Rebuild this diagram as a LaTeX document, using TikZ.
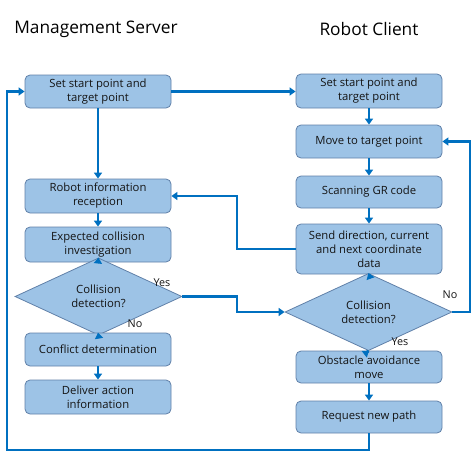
\documentclass[tikz,border=0pt]{standalone}
\usepackage{fontspec}
\setmainfont{Open Sans}
\usetikzlibrary{shapes.geometric,arrows.meta}
\definecolor{boxfill}{RGB}{157,195,230}
\definecolor{boxline}{RGB}{96,128,168}
\definecolor{arrowc}{RGB}{0,112,192}
\definecolor{txt}{RGB}{20,20,20}
\tikzset{
  procbox/.style={draw=boxline, line width=0.8pt, fill=boxfill, rounded corners=5pt,
    minimum width=146pt, inner sep=0pt, align=center, text=txt,
    font=\fontsize{11.3}{14}\selectfont},
  decbox/.style={draw=boxline, line width=0.8pt, fill=boxfill, diamond, inner sep=0pt,
    minimum width=167pt, minimum height=45pt, align=center, text=txt,
    font=\fontsize{11.3}{14}\selectfont},
  flow/.style={draw=arrowc, line width=2.8pt, -{Triangle[width=8pt,length=6pt]}},
  lbl/.style={text=txt, font=\fontsize{10.8}{12}\selectfont, inner sep=0pt},
  title/.style={text=black, font=\fontsize{17.3}{20}\selectfont, inner sep=0pt}
}
\begin{document}
\begin{tikzpicture}[x=1pt,y=-1pt]
\useasboundingbox (0,0) rectangle (474,453);
% titles
\node[title] (t1) at (96,29) {Management Server};
\node[title] (t2) at (369,29) {Robot Client};
% left column
\node[procbox, minimum height=33pt] (L1) at (98,91.5) {Set start point and\\target point};
\node[procbox, minimum height=34pt] (L2) at (98,196) {Robot information\\reception};
\node[procbox, minimum height=35pt] (L3) at (98,244.5) {Expected collision\\investigation};
\node[decbox] (DL) at (98.5,296.5) {Collision\\detection?};
\node[procbox, minimum height=33pt] (L4) at (98,349.5) {Conflict determination};
\node[procbox, minimum height=34pt] (L5) at (98,397) {Deliver action\\information};
% right column
\node[procbox, minimum height=34pt] (R1) at (369,91) {Set start point and\\target point};
\node[procbox, minimum height=33pt] (R2) at (369,141.5) {Move to target point};
\node[procbox, minimum height=32pt] (R3) at (369,192) {Scanning GR code};
\node[procbox, minimum height=50pt] (R4) at (369,249) {Send direction, current\\and next coordinate\\data};
\node[decbox, minimum height=44pt] (DR) at (368.5,312) {Collision\\detection?};
\node[procbox, minimum height=32pt] (R5) at (369,367) {Obstacle avoidance\\move};
\node[procbox, minimum height=32pt] (R6) at (369,417) {Request new path};
% labels
\node[lbl] (y1) at (162,283) {Yes};
\node[lbl] (n1) at (135,324) {No};
\node[lbl] (n2) at (450,295) {No};
\node[lbl] (y2) at (400,342) {Yes};
% junction coordinates
\coordinate (jm) at (237,0);
\coordinate (jr) at (470,0);
\coordinate (jb) at (0,450);
\coordinate (jl) at (7,0);
% left flows
\draw[flow] (L1.east) -- (R1.west |- L1.east);
\draw[flow] (L1.south) -- (L2.north);
\draw[flow] (L2.south) -- (L3.north);
\draw[flow] (L3.south) -- (DL.north);
\draw[flow] (DL.south) -- (L4.north);
\draw[flow] (L4.south) -- (L5.north);
\draw[flow] (DL.east) -- (DL.east -| jm) -- (DR.west -| jm) -- (DR.west);
% right flows
\draw[flow] (R1.south) -- (R2.north);
\draw[flow] (R2.south) -- (R3.north);
\draw[flow] (R3.south) -- (R4.north);
\draw[flow] (R4.south) -- (DR.north);
\draw[flow] (DR.south) -- (R5.north);
\draw[flow] (R5.south) -- (R6.north);
\draw[flow] (DR.east) -- (DR.east -| jr) -- (R2.east -| jr) -- (R2.east);
\draw[flow] (R4.west) -- (R4.west -| jm) -- (L2.east -| jm) -- (L2.east);
\draw[flow] (R6.south) -- (R6.south |- jb) -- (jb -| jl) -- (L1.west -| jl) -- (L1.west);
\end{tikzpicture}
\end{document}
